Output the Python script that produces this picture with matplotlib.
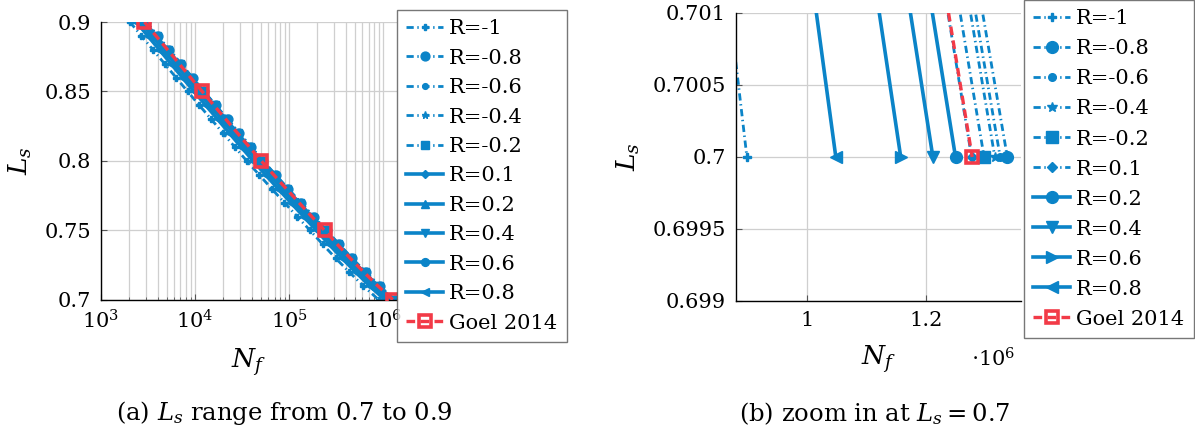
import numpy as np
import matplotlib.pyplot as plt
from matplotlib.ticker import FixedLocator, LogLocator, FormatStrFormatter, NullFormatter

plt.rcParams['font.family'] = ['DejaVu Serif']
plt.rcParams['mathtext.fontset'] = 'dejavuserif'

# stress level L_s and cycles to failure N_f for each load ratio R
Ls = [0.90, 0.89, 0.88, 0.87, 0.86, 0.85, 0.84, 0.83, 0.82, 0.81, 0.80,
      0.79, 0.78, 0.77, 0.76, 0.75, 0.74, 0.73, 0.72, 0.71, 0.70]

nf_r_m1 = [2030, 2690, 3570, 4740, 6280, 8340, 11120, 14860, 19820, 26490, 35490,
           48100, 65330, 89180, 121900, 167200, 227600, 312700, 436600, 616700, 899700]
nf_r_m08 = [3036, 4027, 5345, 7095, 9396, 12470, 16640, 22230, 29640, 39620, 53080,
            71940, 97720, 133400, 182400, 250000, 340400, 467700, 653000, 922400, 1337000]
nf_r_m06 = [3002, 3981, 5284, 7013, 9288, 12330, 16450, 21970, 29300, 39160, 52470,
            71110, 96600, 131900, 180300, 247200, 336500, 462300, 645500, 911800, 1325000]
nf_r_m04 = [2987, 3961, 5258, 6979, 9243, 12270, 16370, 21870, 29160, 38980, 52220,
            70770, 96130, 131200, 179400, 246000, 334900, 460100, 642400, 907400, 1316000]
nf_r_m02 = [2946, 3908, 5187, 6884, 9118, 12100, 16140, 21570, 28760, 38450, 51510,
            69810, 94820, 129400, 177000, 242600, 330300, 453800, 633700, 895100, 1298000]
nf_r_01 = [2894, 3838, 5095, 6762, 8956, 11890, 15860, 21190, 28250, 37760, 50600,
           68570, 93140, 127100, 173800, 238300, 324400, 445800, 622500, 879200, 1277000]
nf_r_02 = [2836, 3761, 4993, 6627, 8777, 11650, 15540, 20760, 27690, 37010, 49580,
           67200, 91270, 124600, 170400, 233500, 317900, 436900, 610000, 861600, 1250000]
nf_r_04 = [2750, 3646, 4839, 6424, 8507, 11290, 15060, 20130, 26840, 35870, 48060,
           65140, 88480, 120800, 165100, 226400, 308200, 423500, 591300, 835200, 1212000]
nf_r_06 = [2627, 3484, 4625, 6139, 8130, 10790, 14400, 19230, 25650, 34280, 45930,
           62250, 84560, 115400, 157800, 216400, 294500, 404700, 565100, 798200, 1158000]
nf_r_08 = [2378, 3154, 4186, 5556, 7359, 9766, 13030, 17410, 23210, 31030, 41570,
           56340, 76530, 104500, 142800, 195800, 266600, 366300, 511400, 722400, 1049000]
nf_goel = [2900, 3846, 5105, 6776, 8974, 11910, 15890, 21230, 28310, 37840, 50700,
           68710, 93330, 127400, 174200, 238800, 325100, 446700, 623700, 881000, 1278000]

labels = ['R=-1', 'R=-0.8', 'R=-0.6', 'R=-0.4', 'R=-0.2',
          'R=0.1', 'R=0.2', 'R=0.4', 'R=0.6', 'R=0.8']
series = [nf_r_m1, nf_r_m08, nf_r_m06, nf_r_m04, nf_r_m02,
          nf_r_01, nf_r_02, nf_r_04, nf_r_06, nf_r_08]

blue = '#0b84c8'
red = '#f23a47'
dashdot = (0, (2.6, 1.3, 0.5, 1.3))

# (linestyle, marker, markersize) per series; the two panels differ for R>0
style_a = [(dashdot, 'P', 6), (dashdot, 'o', 8.5), (dashdot, 'o', 5.5), (dashdot, '*', 7),
           (dashdot, 's', 8), ('-', 'D', 5.5), ('-', '^', 8), ('-', 'v', 8),
           ('-', 'o', 7.5), ('-', '<', 8)]
style_b = [(dashdot, 'P', 6), (dashdot, 'o', 8.5), (dashdot, 'o', 5.5), (dashdot, '*', 7),
           (dashdot, 's', 8), (dashdot, 'D', 5.5), ('-', 'o', 8.5), ('-', 'v', 8),
           ('-', '>', 8), ('-', '<', 8)]

FS = 15

fig = plt.figure(figsize=(11.95, 4.34), dpi=100)
ax1 = fig.add_axes([0.0845, 0.3088, 0.2477, 0.6405])
ax2 = fig.add_axes([0.6157, 0.3065, 0.2387, 0.6636])


def draw(ax, styles, scale):
    for nf, lab, (ls, mk, ms) in zip(series, labels, styles):
        lw = 2.0 if ls == dashdot else 2.6
        ax.plot(nf, Ls, color=blue, linestyle=ls, lw=lw, marker=mk, ms=ms * scale,
                mec=blue, mfc=blue, label=lab)
    ax.plot(nf_goel, Ls, color=red, linestyle=(0, (2.6, 1.6)), lw=2.4,
            marker='s', ms=9, mfc='none', mec=red, mew=2.6, markevery=5,
            label='Goel 2014', zorder=5)


def frame(ax):
    ax.spines['top'].set_visible(False)
    ax.spines['right'].set_visible(False)
    ax.spines['left'].set_linewidth(1.0)
    ax.spines['bottom'].set_linewidth(1.0)
    ax.tick_params(which='both', direction='in', labelsize=FS, color='#555555')
    ax.tick_params(which='major', length=4, pad=7)
    ax.tick_params(which='minor', length=2)
    ax.set_axisbelow(True)


def legend(ax, anchor, spacing):
    leg = ax.legend(loc='upper left', bbox_to_anchor=anchor,
                    bbox_transform=fig.transFigure, fontsize=FS, frameon=True,
                    fancybox=False, edgecolor='#555555', handlelength=1.75,
                    handletextpad=0.3, labelspacing=spacing, borderpad=0.45,
                    borderaxespad=0)
    leg.get_frame().set_linewidth(1.0)
    return leg


# (a) full range, log scale
draw(ax1, style_a, 0.75)
ax1.set_xscale('log')
ax1.set_xlim(1e3, 1.4e6)
ax1.set_ylim(0.7, 0.9)
ax1.yaxis.set_major_locator(FixedLocator([0.7, 0.75, 0.8, 0.85, 0.9]))
ax1.yaxis.set_major_formatter(FormatStrFormatter('%g'))
ax1.xaxis.set_major_locator(LogLocator(base=10, numticks=10))
ax1.xaxis.set_minor_locator(LogLocator(base=10, subs=np.arange(2, 10), numticks=20))
ax1.xaxis.set_minor_formatter(NullFormatter())
ax1.grid(which='both', axis='x', color='#cfcfcf', lw=0.9)
ax1.grid(which='major', axis='y', color='#cfcfcf', lw=0.9)
frame(ax1)
ax1.set_xlabel('$N_f$', fontsize=FS + 4, labelpad=10)
ax1.set_ylabel('$L_s$', fontsize=FS + 4, labelpad=8)
legend(ax1, (0.3322, 0.977), 0.5)

# (b) zoom around L_s = 0.7, linear scale
draw(ax2, style_b, 1.0)
ax2.set_xlim(0.881e6, 1.36e6)
ax2.set_ylim(0.699, 0.701)
ax2.yaxis.set_major_locator(FixedLocator([0.699, 0.6995, 0.7, 0.7005, 0.701]))
ax2.yaxis.set_major_formatter(FormatStrFormatter('%g'))
ax2.xaxis.set_major_locator(FixedLocator([1.0e6, 1.2e6]))
ax2.set_xticklabels(['1', '1.2'])
ax2.grid(which='major', color='#cfcfcf', lw=0.9)
frame(ax2)
ax2.set_xlabel('$N_f$', fontsize=FS + 4, labelpad=10)
ax2.set_ylabel('$L_s$', fontsize=FS + 4, labelpad=8)
fig.text(0.831, 0.173, r'$\cdot10^{6}$', fontsize=FS, ha='center', va='center')
legend(ax2, (0.8569, 1.0), 0.53)

fig.text(0.2377, 0.048, r'(a) $L_s$ range from 0.7 to 0.9', fontsize=FS + 2.5,
         ha='center', va='center')
fig.text(0.732, 0.048, r'(b) zoom in at $L_s = 0.7$', fontsize=FS + 2.5,
         ha='center', va='center')

fig.savefig('out.png', dpi=100)
